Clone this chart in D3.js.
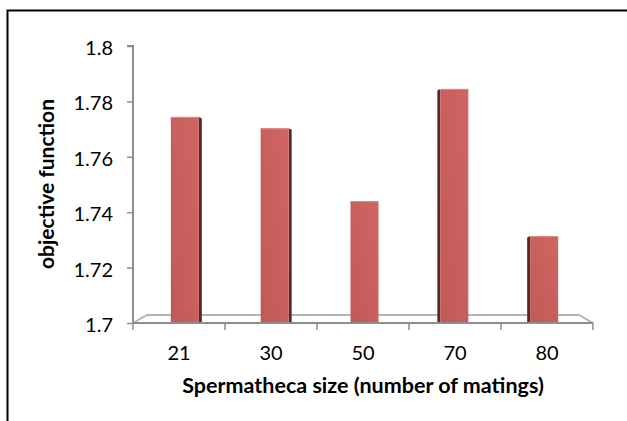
<!DOCTYPE html>
<html><head><meta charset="utf-8">
<script src="https://cdn.jsdelivr.net/npm/d3@7/dist/d3.min.js"></script>
<style>body{margin:0;background:#fff}svg{display:block}text{font-family:Lato,"Open Sans",sans-serif}</style>
</head><body><svg id="c" width="627" height="421"></svg>
<script>
const categories = ["21","30","50","70","80"];
const values = [1.7744, 1.7703, 1.7440, 1.7845, 1.7314];
const yTicks = [1.7, 1.72, 1.74, 1.76, 1.78, 1.8];
const xTitle = "Spermatheca size (number of matings)";
const yTitle = "objective function";

const svg = d3.select("#c");
const W = 627, H = 421;
const plot = {left:133, right:593, top:46, bottom:323};
const depth = {dx:14, dy:8};

// frame
svg.append("path").attr("d", `M7.5,${H} V10.5 H${W}`).attr("fill","none").attr("stroke","#000").attr("stroke-width",2);

const x = d3.scaleBand().domain(categories).range([plot.left, plot.right]).paddingInner(0).paddingOuter(0);
const y = d3.scaleLinear().domain([1.7, 1.8]).range([plot.bottom, plot.top]);
const center = (plot.left + plot.right)/2;

const defs = svg.append("defs");
const g1 = defs.append("linearGradient").attr("id","front").attr("x1","0").attr("y1","1").attr("x2","1").attr("y2","0");
g1.append("stop").attr("offset","0").attr("stop-color","#c15956");
g1.append("stop").attr("offset","1").attr("stop-color","#cf6663");

// floor
const axisCol = "#8e8e8e";
const floor = svg.append("g").attr("fill","none").attr("stroke",axisCol).attr("stroke-width",2);
floor.append("path").attr("d", `M${plot.left},${plot.bottom} L${plot.left+depth.dx},${plot.bottom-depth.dy} H${plot.right-depth.dx} L${plot.right},${plot.bottom}`).attr("stroke","#b5b5b5");

// y axis
const yAxis = d3.axisLeft(y).tickValues(yTicks).tickSize(6).tickPadding(14).tickFormat(d3.format("~g"));
const ya = svg.append("g").attr("transform",`translate(${plot.left},0)`).call(yAxis);
ya.select(".domain").attr("stroke",axisCol).attr("stroke-width",2).attr("d",`M-6,${plot.top}H0V${plot.bottom}`);
ya.selectAll(".tick line").attr("stroke",axisCol).attr("stroke-width",1.5);
ya.selectAll(".tick text").attr("font-size",20).attr("fill","#000").attr("dy","0.42em");

// x axis
const xAxis = d3.axisBottom(x).tickSize(0).tickPadding(23);
const xa = svg.append("g").attr("transform",`translate(0,${plot.bottom})`).call(xAxis);
xa.select(".domain").attr("stroke",axisCol).attr("stroke-width",2).attr("d",`M${plot.left},0H${plot.right}`);
xa.selectAll(".tick text").attr("font-size",20).attr("fill","#000");
const bounds = categories.map(c => x(c)).concat([plot.right]);
xa.selectAll(".sep").data(bounds).join("line").attr("class","sep")
  .attr("x1",d=>d).attr("x2",d=>d).attr("y1",0).attr("y2",7)
  .attr("stroke",axisCol).attr("stroke-width",1.5);

// bars
const bw = 28;
const bars = svg.append("g");
categories.forEach((c,i)=>{
  const bc = x(c) + x.bandwidth()/2;
  const off = 1.5 - 0.0235*(bc - center);
  const fx = bc + off - bw/2;
  const top = y(values[i]);
  const bot = plot.bottom - 1;
  let side = Math.max(-3, Math.min(3, (center - bc)*0.04));
  if (Math.abs(side) < 1) side = 0;
  if (side > 0) {
    bars.append("path").attr("d",`M${fx+bw},${top} L${fx+bw+side},${top+1.5} V${bot} H${fx+bw} Z`).attr("fill","#5b2725");
  } else if (side < 0) {
    bars.append("path").attr("d",`M${fx},${top} L${fx+side},${top+1.5} V${bot} H${fx} Z`).attr("fill","#5b2725");
  }
  bars.append("rect").attr("x",fx).attr("y",top).attr("width",bw).attr("height",bot-top).attr("fill","url(#front)");
  bars.append("line").attr("x1",fx).attr("x2",fx+bw).attr("y1",top+0.5).attr("y2",top+0.5).attr("stroke","#e08a87").attr("stroke-width",1);
});

// titles
svg.append("text").attr("x",363).attr("y",393).attr("text-anchor","middle").attr("font-size",21.5).attr("font-weight","bold").text(xTitle);
svg.append("text").attr("transform","translate(54,184) rotate(-90)").attr("text-anchor","middle").attr("font-size",21).attr("font-weight","bold").text(yTitle);
</script></body></html>
